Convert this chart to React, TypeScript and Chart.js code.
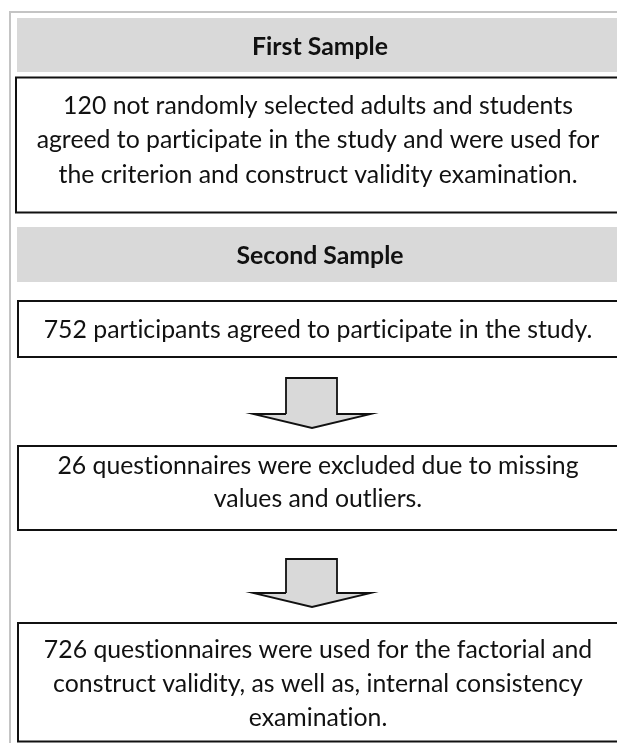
import React, { useEffect, useRef } from "react";
import { Chart, registerables } from "chart.js";

Chart.register(...registerables);

// ---- content ----
const sectionTitles = ["First Sample", "Second Sample"];
const firstSampleText = [
  "120 not randomly selected adults and students",
  "agreed to participate in the study and were used for",
  "the criterion and construct validity examination.",
];
const participantsText = ["752 participants agreed to participate in the study."];
const excludedText = ["26 questionnaires were excluded due to missing", "values and outliers."];
const usedText = [
  "726 questionnaires were used for the factorial and",
  "construct validity, as well as, internal consistency",
  "examination.",
];

// ---- layout (canvas units, 1 unit = 1 px) ----
const W = 617;
const H = 743;
const RIGHT = 640;
const TEXT_CX = 318;
const FONT = "Lato, 'Open Sans', sans-serif";
const headerGeo = [
  { x0: 17, y0: 18, y1: 72, baseline: 55 },
  { x0: 17, y0: 227, y1: 282, baseline: 264 },
];
const boxGeo = [
  { x0: 16, y0: 77.5, y1: 212.5, baselines: [114, 148, 183] },
  { x0: 18, y0: 301, y1: 357, baselines: [338] },
  { x0: 18, y0: 446, y1: 530, baselines: [474, 507] },
  { x0: 18, y0: 623, y1: 741.5, baselines: [658, 692, 726] },
];
const boxTexts = [firstSampleText, participantsText, excludedText, usedText];
const arrowGeo = [
  { top: 378, neck: 414, tip: 428 },
  { top: 559, neck: 593, tip: 607 },
];
const SHAFT_L = 286;
const SHAFT_R = 337;
const WING_L = 253;
const WING_R = 371;
const ARROW_CX = 312;

const GREY_FILL = "#d9d9d9";
const FRAME = "#c4c4c4";
const INK = "#111111";
const CLEAR = "rgba(0,0,0,0)";

function buildDatasets() {
  const ds: any[] = [];
  // outer frame
  ds.push({
    data: [{ x: 10, y: H + 5 }, { x: 10, y: 12 }, { x: RIGHT, y: 12 }],
    borderColor: FRAME,
    borderWidth: 2,
    fill: false,
    order: 1,
  });
  headerGeo.forEach((h) => {
    ds.push({
      data: [{ x: h.x0, y: h.y0 }, { x: RIGHT, y: h.y0 }],
      borderColor: CLEAR,
      borderWidth: 1,
      backgroundColor: GREY_FILL,
      fill: { value: h.y1 },
      order: 3,
    });
  });
  boxGeo.forEach((b) => {
    ds.push({
      data: [
        { x: RIGHT, y: b.y0 },
        { x: b.x0, y: b.y0 },
        { x: b.x0, y: b.y1 },
        { x: RIGHT, y: b.y1 },
      ],
      borderColor: INK,
      borderWidth: 2,
      fill: false,
      order: 1,
    });
  });
  arrowGeo.forEach((a) => {
    ds.push({
      data: [{ x: SHAFT_L, y: a.top }, { x: SHAFT_R, y: a.top }],
      borderColor: CLEAR,
      borderWidth: 1,
      backgroundColor: GREY_FILL,
      fill: { value: a.neck },
      order: 3,
    });
    ds.push({
      data: [{ x: WING_L, y: a.neck }, { x: ARROW_CX, y: a.tip }, { x: WING_R, y: a.neck }],
      borderColor: CLEAR,
      borderWidth: 1,
      backgroundColor: GREY_FILL,
      fill: { value: a.neck },
      order: 3,
    });
    ds.push({
      data: [
        { x: SHAFT_L, y: a.neck },
        { x: SHAFT_L, y: a.top },
        { x: SHAFT_R, y: a.top },
        { x: SHAFT_R, y: a.neck },
        { x: WING_R, y: a.neck },
        { x: ARROW_CX, y: a.tip },
        { x: WING_L, y: a.neck },
        { x: SHAFT_L, y: a.neck },
      ],
      borderColor: INK,
      borderWidth: 1.8,
      fill: false,
      order: 1,
    });
  });
  return ds;
}

const textPlugin = {
  id: "flowText",
  afterDatasetsDraw(chart: any) {
    const { ctx, scales } = chart;
    const xs = scales.x;
    const ys = scales.y;
    ctx.save();
    try {
      (ctx as any).textRendering = "optimizeSpeed";
    } catch (e) {}
    ctx.font = `100px ${FONT}`;
    const ref = ctx.measureText(firstSampleText[1]).width;
    const size = (100 * 563) / ref;
    ctx.fillStyle = INK;
    ctx.textAlign = "center";
    ctx.textBaseline = "alphabetic";
    ctx.font = `bold ${size}px ${FONT}`;
    headerGeo.forEach((h, i) => {
      ctx.fillText(sectionTitles[i], xs.getPixelForValue(TEXT_CX + 2), ys.getPixelForValue(h.baseline));
    });
    ctx.font = `${size}px ${FONT}`;
    boxGeo.forEach((b, i) => {
      boxTexts[i].forEach((line, j) => {
        ctx.fillText(line, xs.getPixelForValue(TEXT_CX), ys.getPixelForValue(b.baselines[j]));
      });
    });
    ctx.restore();
  },
};

export default function App() {
  const ref = useRef<HTMLCanvasElement | null>(null);
  useEffect(() => {
    if (!ref.current) return;
    const chart = new Chart(ref.current, {
      type: "line",
      data: { datasets: buildDatasets() },
      options: {
        animation: false,
        responsive: false,
        events: [],
        layout: { padding: 0 },
        elements: {
          point: { radius: 0, hoverRadius: 0 },
          line: { tension: 0, borderJoinStyle: "miter", borderCapStyle: "butt" },
        },
        plugins: {
          legend: { display: false },
          tooltip: { enabled: false },
          filler: { propagate: false },
        },
        scales: {
          x: { type: "linear", min: 0, max: W, display: false },
          y: { type: "linear", min: 0, max: H, reverse: true, display: false },
        },
      } as any,
      plugins: [textPlugin],
    });
    return () => chart.destroy();
  }, []);
  return (
    <div style={{ position: "absolute", left: 0, top: 0, width: W, height: H, background: "#fff" }}>
      <canvas ref={ref} width={W} height={H} style={{ display: "block" }} />
    </div>
  );
}
